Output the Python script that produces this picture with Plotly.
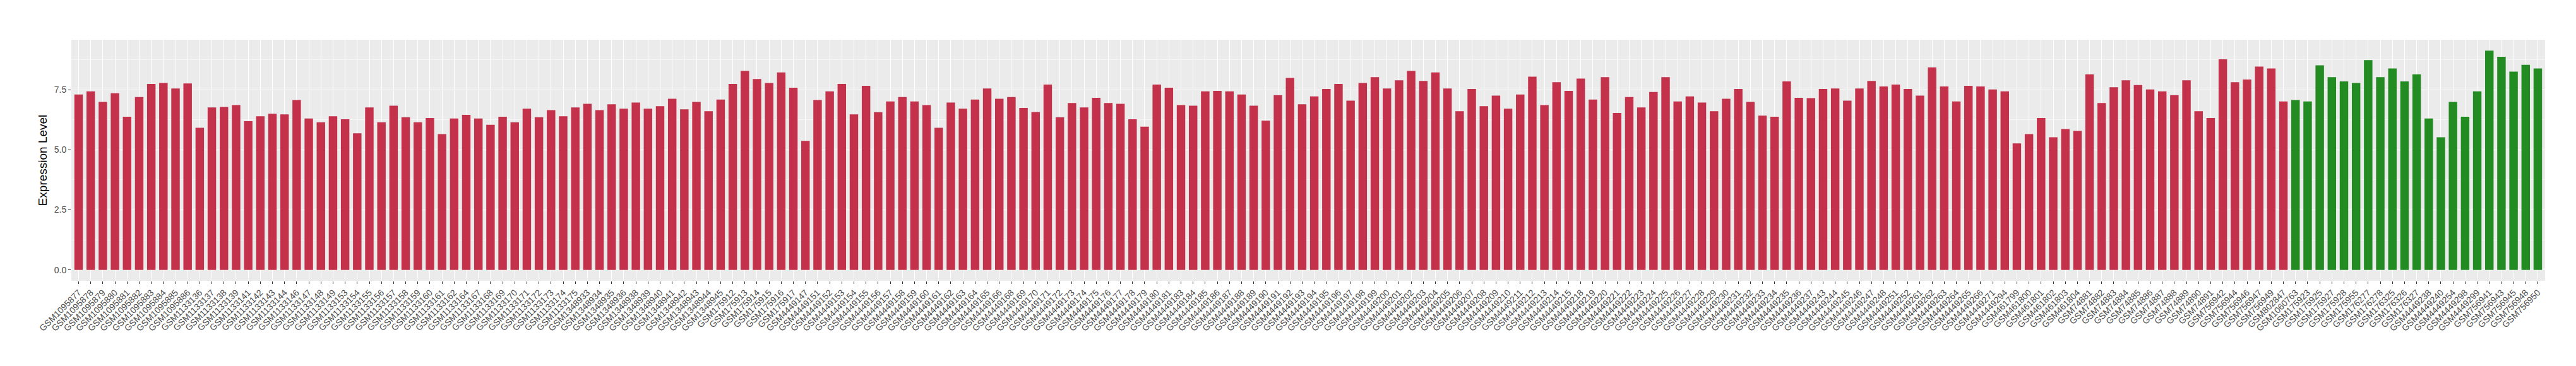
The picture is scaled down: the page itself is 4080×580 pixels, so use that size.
import plotly.graph_objects as go

samples_a = [
    "GSM1095877", "GSM1095878", "GSM1095879", "GSM1095880", "GSM1095881", "GSM1095882",
    "GSM1095883", "GSM1095884", "GSM1095885", "GSM1095886", "GSM1133136", "GSM1133137",
    "GSM1133138", "GSM1133139", "GSM1133141", "GSM1133142", "GSM1133143", "GSM1133144",
    "GSM1133146", "GSM1133147", "GSM1133148", "GSM1133149", "GSM1133153", "GSM1133154",
    "GSM1133155", "GSM1133156", "GSM1133157", "GSM1133158", "GSM1133159", "GSM1133160",
    "GSM1133161", "GSM1133162", "GSM1133164", "GSM1133167", "GSM1133168", "GSM1133169",
    "GSM1133170", "GSM1133171", "GSM1133172", "GSM1133173", "GSM1133174", "GSM1133175",
    "GSM1348933", "GSM1348934", "GSM1348935", "GSM1348936", "GSM1348938", "GSM1348939",
    "GSM1348940", "GSM1348941", "GSM1348942", "GSM1348943", "GSM1348944", "GSM1348945",
    "GSM175912", "GSM175913", "GSM175914", "GSM175915", "GSM175916", "GSM175917",
    "GSM4449147", "GSM4449151", "GSM4449152", "GSM4449153", "GSM4449154", "GSM4449155",
    "GSM4449156", "GSM4449157", "GSM4449158", "GSM4449159", "GSM4449160", "GSM4449161",
    "GSM4449162", "GSM4449163", "GSM4449164", "GSM4449165", "GSM4449166", "GSM4449168",
    "GSM4449169", "GSM4449170", "GSM4449171", "GSM4449172", "GSM4449173",
    "GSM4449174", "GSM4449175", "GSM4449176", "GSM4449177", "GSM4449178", "GSM4449179",
    "GSM4449180", "GSM4449181", "GSM4449183", "GSM4449184", "GSM4449185", "GSM4449186",
    "GSM4449187", "GSM4449188", "GSM4449189", "GSM4449190", "GSM4449191", "GSM4449192",
    "GSM4449193", "GSM4449194", "GSM4449195", "GSM4449196", "GSM4449197", "GSM4449198",
    "GSM4449199", "GSM4449200", "GSM4449201", "GSM4449202", "GSM4449203", "GSM4449204",
    "GSM4449205", "GSM4449206", "GSM4449207", "GSM4449208", "GSM4449209",
    "GSM4449210", "GSM4449211", "GSM4449212", "GSM4449213", "GSM4449214", "GSM4449215",
    "GSM4449218", "GSM4449219", "GSM4449220", "GSM4449221", "GSM4449222", "GSM4449223",
    "GSM4449224", "GSM4449225", "GSM4449226", "GSM4449227", "GSM4449228", "GSM4449229",
    "GSM4449230", "GSM4449231", "GSM4449232", "GSM4449233", "GSM4449234", "GSM4449235",
    "GSM4449236", "GSM4449237", "GSM4449243", "GSM4449244", "GSM4449245", "GSM4449246",
    "GSM4449247", "GSM4449248", "GSM4449251", "GSM4449252", "GSM4449261", "GSM4449262",
    "GSM4449263", "GSM4449264", "GSM4449265", "GSM4449266", "GSM4449271", "GSM4449294",
    "GSM461799", "GSM461800", "GSM461801", "GSM461802", "GSM461803", "GSM461804",
    "GSM74881", "GSM74882", "GSM74883", "GSM74884", "GSM74885", "GSM74886",
    "GSM74887", "GSM74888", "GSM74889", "GSM74890", "GSM74891",
    "GSM756942", "GSM756944", "GSM756946", "GSM756947", "GSM756949", "GSM802847",
]
values_a = [
    7.30, 7.43, 6.99, 7.35, 6.37, 7.19, 7.74, 7.78, 7.55, 7.76, 5.91, 6.76,
    6.78, 6.86, 6.19, 6.39, 6.50, 6.47, 7.07, 6.30, 6.14, 6.39, 6.27, 5.68,
    6.76, 6.14, 6.83, 6.35, 6.14, 6.32,
    5.65, 6.30, 6.45, 6.30, 6.04, 6.37, 6.14, 6.71, 6.35, 6.65, 6.39, 6.76,
    6.91, 6.65, 6.89, 6.71, 6.96, 6.71,
    6.81, 7.12, 6.68, 6.99, 6.60, 7.09, 7.74, 8.28, 7.94, 7.78, 8.22, 7.58,
    5.37, 7.07, 7.43, 7.74, 6.47, 7.66,
    6.56, 7.01, 7.19, 7.01, 6.86, 5.91, 6.96, 6.71, 7.09, 7.55, 7.12, 7.19,
    6.74, 6.57, 7.71, 6.35, 6.94,
    6.76, 7.16, 6.94, 6.91, 6.27, 5.96, 7.71, 7.58, 6.86, 6.83, 7.43, 7.45,
    7.43, 7.30, 6.83, 6.21, 7.27, 7.99,
    6.89, 7.22, 7.53, 7.74, 7.04, 7.78, 8.02, 7.55, 7.89, 8.28, 7.86, 8.22,
    7.55, 6.60, 7.53, 6.81, 7.25,
    6.71, 7.30, 8.04, 6.86, 7.81, 7.45, 7.96, 7.09, 8.02, 6.53, 7.19, 6.76,
    7.40, 8.02, 7.01, 7.22, 6.96, 6.60,
    7.12, 7.53, 6.99, 6.42, 6.37, 7.84, 7.16, 7.15, 7.53, 7.55, 7.04, 7.55,
    7.86, 7.63, 7.71, 7.53, 7.25, 8.43,
    7.63, 7.01, 7.66, 7.63, 7.51, 7.43, 5.26, 5.65, 6.32, 5.52, 5.86, 5.78,
    8.14, 6.94, 7.60, 7.89, 7.69, 7.51,
    7.43, 7.27, 7.89, 6.60, 6.32,
    8.76, 7.81, 7.92, 8.46, 8.38, 7.01,
]
samples_b = [
    "GSM1060763", "GSM175923", "GSM175925", "GSM175927", "GSM175928", "GSM175955",
    "GSM176277", "GSM176278", "GSM176325", "GSM176326", "GSM176327",
    "GSM4449238", "GSM4449240", "GSM4449254", "GSM4449298", "GSM4449299",
    "GSM756941", "GSM756943", "GSM756945", "GSM756948", "GSM756950",
]
values_b = [
    7.07, 7.01, 8.51, 8.02, 7.84, 7.78, 8.73, 8.02, 8.38, 7.84, 8.14,
    6.30, 5.52, 6.99, 6.37, 7.43, 9.12, 8.87, 8.25, 8.53, 8.38,
]

color_a = "#C3314A"
color_b = "#228B22"

samples = samples_a + samples_b
values = values_a + values_b
colors = [color_a] * len(samples_a) + [color_b] * len(samples_b)

fig = go.Figure(go.Bar(x=samples, y=values, marker=dict(color=colors, line=dict(width=0)),
                       showlegend=False))

font_family = "Liberation Sans, Arial, sans-serif"
ymax = max(values)
pad = 0.05 * ymax
fig.update_layout(
    width=4080, height=580,
    margin=dict(l=105, r=57, t=55, b=143),
    paper_bgcolor="white", plot_bgcolor="#EBEBEB",
    bargap=0.3,
    font=dict(family=font_family, color="#4D4D4D", size=14),
    xaxis=dict(
        type="category", categoryorder="array", categoryarray=samples,
        range=[-0.6, len(samples) - 0.4],
        tickangle=-45, tickfont=dict(size=14, color="#4D4D4D"),
        showgrid=True, gridcolor="white", gridwidth=1.3,
        ticks="outside", ticklen=4, tickcolor="#333333", tickwidth=1,
        showline=False, zeroline=False, automargin=False,
    ),
    yaxis=dict(
        range=[-pad, ymax + pad],
        tickvals=[0, 2.5, 5.0, 7.5], ticktext=["0.0", "2.5", "5.0", "7.5"],
        tickfont=dict(size=14, color="#4D4D4D"),
        showgrid=True, gridcolor="white", gridwidth=1.3,
        minor=dict(tickvals=[1.25, 3.75, 6.25, 8.75], showgrid=True,
                   gridcolor="#F6F6F6", gridwidth=0.7, ticks=""),
        ticks="outside", ticklen=4, tickcolor="#333333", tickwidth=1,
        showline=False, zeroline=False, automargin=False,
        title=dict(text="Expression Level", font=dict(size=19, color="black"), standoff=6),
    ),
)

fig.write_html("out.html")
